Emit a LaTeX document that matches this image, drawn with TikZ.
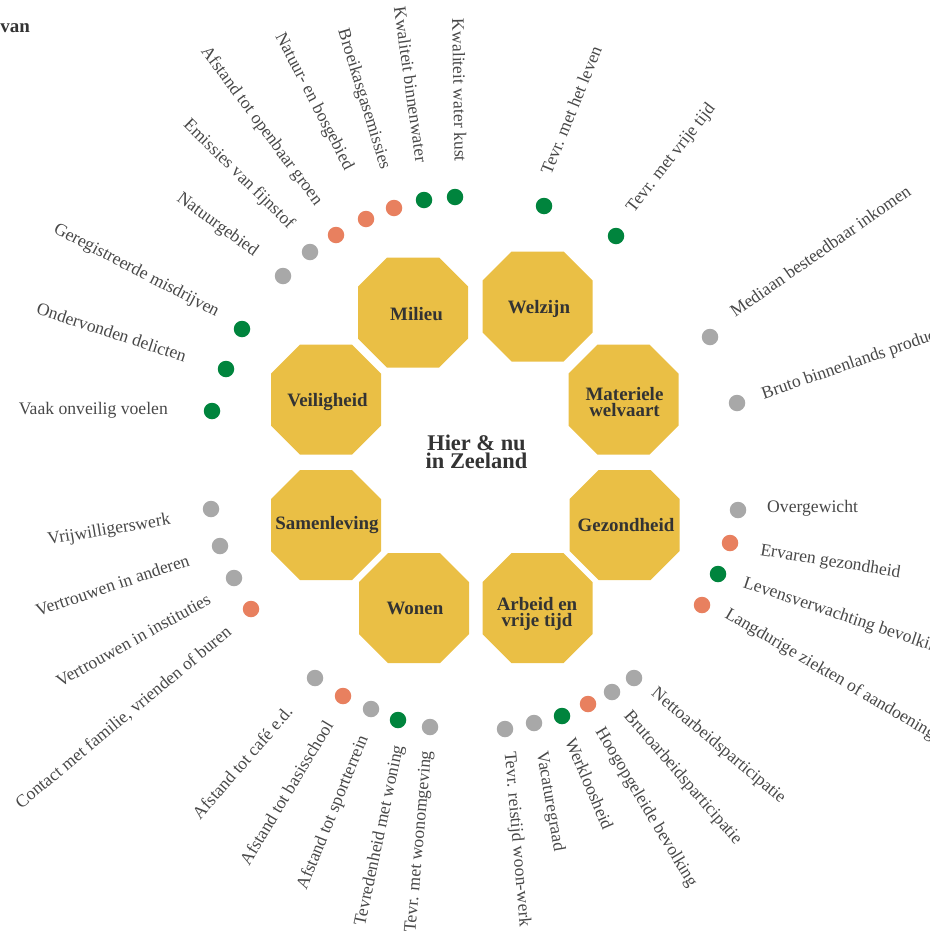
\documentclass[tikz,border=0pt]{standalone}
\usepackage{fontspec}
\setmainfont{Liberation Serif}
\definecolor{octfill}{HTML}{EABF45}
\definecolor{dgreen}{HTML}{00843D}
\definecolor{dsalmon}{HTML}{E8805F}
\definecolor{dgray}{HTML}{A8A8A8}
\definecolor{txt}{HTML}{484848}
\definecolor{txtd}{HTML}{333333}
\begin{document}
\begin{tikzpicture}[x=1bp,y=-1bp,
  dotnode/.style={circle, inner sep=0pt, minimum size=16.5bp},
  gdot/.style={dotnode, fill=dgreen},
  sdot/.style={dotnode, fill=dsalmon},
  ydot/.style={dotnode, fill=dgray},
  lbl/.style={inner sep=0pt, text=txt, font=\fontsize{17.7}{20}\selectfont},
  lblL/.style={lbl, anchor=mid east},
  lblR/.style={lbl, anchor=mid west},
  octlabel/.style={text=txtd, font=\bfseries\fontsize{19}{15.5}\selectfont, align=center, inner sep=0pt},
]
\useasboundingbox (0,0) rectangle (930,937);

% octagons
\foreach \cx/\cy [count=\i] in {413/312.5, 537.5/306.5, 623.5/399.7, 326/399.7, 326/525, 624.7/525, 414/608, 537.5/608}{
  \fill[octfill] (\cx-26,\cy-55) -- (\cx+26,\cy-55) -- (\cx+55,\cy-26) -- (\cx+55,\cy+26)
     -- (\cx+26,\cy+55) -- (\cx-26,\cy+55) -- (\cx-55,\cy+26) -- (\cx-55,\cy-26) -- cycle;
}

% octagon labels
\node[octlabel] (milieu) at (416.5,314.5) {Milieu};
\node[octlabel] (welzijn) at (539,309) {Welzijn};
\node[octlabel] (materieel) at (624.5,402) {Materiele\\welvaart};
\node[octlabel] (veiligheid) at (327.5,402) {Veiligheid};
\node[octlabel] (samenleving) at (327,525.5) {Samenleving};
\node[octlabel] (gezondheid) at (626,525.5) {Gezondheid};
\node[octlabel] (wonen) at (415,608.5) {Wonen};
\node[octlabel] (arbeid) at (537,614) {Arbeid en\\vrije tijd};

% centre
\node[text=txtd, font=\bfseries\fontsize{22.5}{18}\selectfont, align=center, inner sep=0pt] (centre) at (476.5,452) {Hier \& nu\\in Zeeland};

% title fragment
\node[anchor=base east, text=txtd, font=\bfseries\fontsize{19}{22}\selectfont, inner sep=0pt] (title) at (30,32) {van};

% dots
\node[ydot] (d7) at (283,276) {};
\node[ydot] (d6) at (310,252) {};
\node[sdot] (d5) at (336,235) {};
\node[sdot] (d4) at (366,219) {};
\node[sdot] (d3) at (394,208) {};
\node[gdot] (d2) at (424,200) {};
\node[gdot] (d1) at (455,197) {};
\node[gdot] (d33) at (544,206) {};
\node[gdot] (d32) at (616,236) {};
\node[ydot] (d31) at (710,337) {};
\node[ydot] (d30) at (737,403) {};
\node[ydot] (d29) at (738,510) {};
\node[sdot] (d28) at (730,543) {};
\node[gdot] (d27) at (718,574) {};
\node[sdot] (d26) at (702,605) {};
\node[ydot] (d25) at (634,678) {};
\node[ydot] (d24) at (612,692) {};
\node[sdot] (d23) at (588,704) {};
\node[gdot] (d22) at (562,716) {};
\node[ydot] (d21) at (534,723) {};
\node[ydot] (d20) at (505,729) {};
\node[ydot] (d19) at (430,727) {};
\node[gdot] (d18) at (398,720) {};
\node[ydot] (d17) at (371,709) {};
\node[sdot] (d16) at (343,696) {};
\node[ydot] (d15) at (315,678) {};
\node[sdot] (d14) at (251,609) {};
\node[ydot] (d13) at (234,578) {};
\node[ydot] (d12) at (220,546) {};
\node[ydot] (d11) at (211,509) {};
\node[gdot] (d10) at (212,411) {};
\node[gdot] (d9) at (226,369) {};
\node[gdot] (d8) at (242,329) {};

% labels reading towards the centre
\node[lblL, rotate=-89] (l1) at (457,162) {Kwaliteit water kust};
\node[lblL, rotate=-82] (l2) at (418,163) {Kwaliteit binnenwater};
\node[lblL, rotate=-73] (l3) at (383,170) {Broeikasgasemissies};
\node[lblL, rotate=-62.6] (l4) at (347,170) {Natuur- en bosgebied};
\node[lblL, rotate=-53.5] (l5) at (317,205) {Afstand tot openbaar groen};
\node[lblL, rotate=-44.5] (l6) at (290,228) {Emissies van fijnstof};
\node[lblL, rotate=-36] (l7) at (255,255) {Natuurgebied};
\node[lblL, rotate=-27.5] (l8) at (217,315) {Geregistreerde misdrijven};
\node[lblL, rotate=-18] (l9) at (185,360) {Ondervonden delicten};
\node[lblL] (l10) at (168,412) {Vaak onveilig voelen};
\node[lblL, rotate=9.5] (l11) at (171,522) {Vrijwilligerswerk};
\node[lblL, rotate=18.5] (l12) at (190,563) {Vertrouwen in anderen};
\node[lblL, rotate=29] (l13) at (211,601) {Vertrouwen in instituties};
\node[lblL, rotate=39.7] (l14) at (231,632) {Contact met familie, vrienden of buren};
\node[lblL, rotate=49] (l15) at (292,711) {Afstand tot café e.d.};
\node[lblL, rotate=59] (l16) at (332,724) {Afstand tot basisschool};
\node[lblL, rotate=68] (l17) at (366,737) {Afstand tot sportterrein};
\node[lblL, rotate=78] (l18) at (401,746) {Tevredenheid met woning};
\node[lblL, rotate=85] (l19) at (429,751) {Tevr. met woonomgeving};

% labels reading outwards
\node[lblR, rotate=-85] (l20) at (507,752) {Tevr. reistijd woon-werk};
\node[lblR, rotate=-80] (l21) at (539,752) {Vacaturegraad};
\node[lblR, rotate=-67] (l22) at (567,740) {Werkloosheid};
\node[lblR, rotate=-59] (l23) at (597,730) {Hoogopgeleide bevolking};
\node[lblR, rotate=-49] (l24) at (625,715) {Brutoarbeidsparticipatie};
\node[lblR, rotate=-40] (l25) at (652,693) {Nettoarbeidsparticipatie};
\node[lblR, rotate=-30.5] (l26) at (725,615) {Langdurige ziekten of aandoeningen};
\node[lblR, rotate=-18.6] (l27) at (743,585) {Levensverwachting bevolking};
\node[lblR, rotate=-9] (l28) at (760,553) {Ervaren gezondheid};
\node[lblR] (l29) at (767,510) {Overgewicht};
\node[lblR, rotate=19] (l30) at (763,397) {Bruto binnenlands product};
\node[lblR, rotate=35] (l31) at (734,316) {Mediaan besteedbaar inkomen};
\node[lblR, rotate=52] (l32) at (632,212) {Tevr. met vrije tijd};
\node[lblR, rotate=68] (l33) at (549,175) {Tevr. met het leven};
\end{tikzpicture}
\end{document}
